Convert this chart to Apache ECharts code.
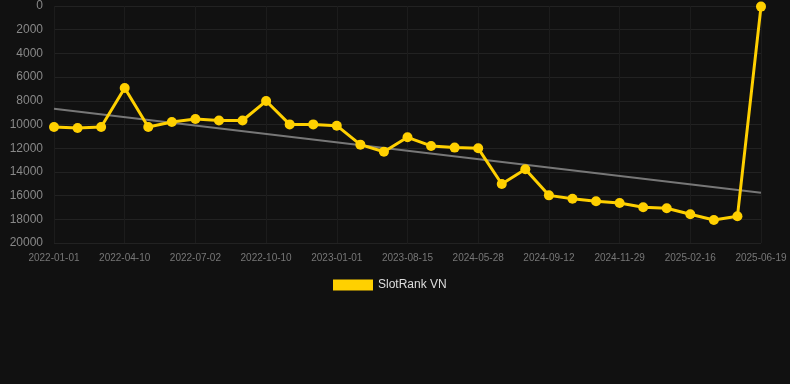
<!DOCTYPE html>
<html>
<head>
<meta charset="utf-8">
<script src="https://cdn.jsdelivr.net/npm/echarts@6/dist/echarts.min.js"></script>
<style>
html,body{margin:0;padding:0;background:#111111;}
#chart{width:790px;height:384px;}
</style>
</head>
<body>
<div id="chart"></div>
<script>
const categories = [
  '2022-01-01','2022-02-05','2022-03-08','2022-04-10','2022-05-05','2022-06-04',
  '2022-07-02','2022-08-06','2022-09-08','2022-10-10','2022-11-05','2022-12-03',
  '2023-01-01','2023-03-20','2023-06-01','2023-08-15','2023-11-10','2024-02-20',
  '2024-05-28','2024-06-30','2024-08-05','2024-09-12','2024-10-10','2024-11-02',
  '2024-11-29','2024-12-25','2025-01-20','2025-02-16','2025-03-20','2025-04-25',
  '2025-06-19'
];
const rankValues = [
  10210, 10300, 10210, 6920, 10210, 9790,
  9540, 9660, 9660, 8020, 9990, 9990,
  10100, 11700, 12300, 11080, 11810, 11950,
  12010, 15020, 13780, 15980, 16260, 16480,
  16620, 16990, 17070, 17580, 18060, 17750,
  50
];
const trendStart = 8670;
const trendEnd = 15750;
const seriesName = 'SlotRank VN';

const chart = echarts.init(document.getElementById('chart'), null, {renderer: 'canvas'});
chart.setOption({
  backgroundColor: '#111111',
  animation: false,
  grid: {left: 54, right: 29, top: 6, bottom: 141},
  legend: {
    data: [{name: seriesName, icon: 'rect'}],
    top: 274,
    left: 328,
    itemWidth: 40,
    itemHeight: 11,
    textStyle: {color: '#dddddd', fontSize: 12, fontFamily: 'Arial, Liberation Sans, sans-serif'}
  },
  xAxis: {
    type: 'category',
    data: categories,
    boundaryGap: false,
    axisLine: {show: false},
    axisTick: {show: false},
    axisLabel: {
      interval: 2,
      color: '#777777',
      fontSize: 10,
      margin: 10,
      fontFamily: 'Arial, Liberation Sans, sans-serif'
    },
    splitLine: {show: true, interval: 2, lineStyle: {color: '#1c1c1c', width: 1}}
  },
  yAxis: {
    type: 'value',
    inverse: true,
    min: 0,
    max: 20000,
    interval: 2000,
    axisLine: {show: false},
    axisTick: {show: false},
    axisLabel: {
      color: '#888888', fontSize: 12, margin: 11,
      fontFamily: 'Arial, Liberation Sans, sans-serif',
      formatter: function (v) { return String(v); }
    },
    splitLine: {lineStyle: {color: '#222222', width: 1}}
  },
  series: [
    {
      name: 'trend',
      type: 'line',
      data: [[0, trendStart], [categories.length - 1, trendEnd]],
      symbol: 'none',
      lineStyle: {color: '#777777', width: 2},
      silent: true,
      z: 1
    },
    {
      name: seriesName,
      type: 'line',
      data: rankValues,
      symbol: 'circle',
      symbolSize: 10,
      itemStyle: {color: '#FFD000'},
      lineStyle: {color: '#FFD000', width: 3},
      z: 3
    }
  ]
});
</script>
</body>
</html>
